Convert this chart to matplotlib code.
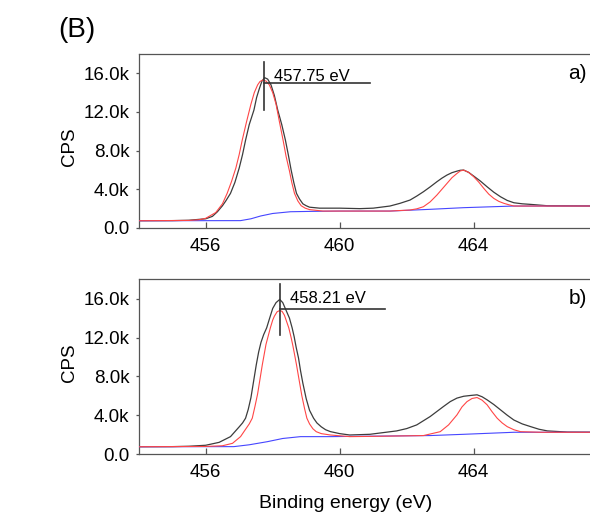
import matplotlib.pyplot as plt
from matplotlib.ticker import FuncFormatter

plt.rcParams['font.family'] = ['Liberation Sans', 'DejaVu Sans']

# Ti 2p spectra, intensities in kCPS
# panel a) - measured envelope
raw_x_a = [454.0, 455.0, 455.5, 456.0, 456.2, 456.35, 456.5, 456.6, 456.74, 456.87, 457.0,
           457.1, 457.19, 457.3, 457.44, 457.52, 457.6, 457.68, 457.76, 457.85, 457.95, 458.05,
           458.15, 458.27, 458.38, 458.47, 458.55, 458.63, 458.71, 458.8, 458.9, 459.0, 459.1,
           459.4, 460.0, 460.6, 461.0, 461.5, 461.8, 462.1, 462.3, 462.5, 462.7, 462.9, 463.05,
           463.2, 463.35, 463.5, 463.6, 463.7, 463.85, 464.0, 464.2, 464.4, 464.6, 464.8, 465.0,
           465.2, 465.45, 465.7, 466.2, 468.0]
raw_y_a = [0.75, 0.76, 0.80, 0.95, 1.20, 1.68, 2.30, 2.80, 3.58, 4.70, 6.20,
           7.60, 9.08, 10.7, 12.2, 13.5, 14.4, 15.2, 15.55, 15.4, 14.8, 13.7,
           12.2, 10.7, 9.08, 7.50, 6.00, 4.70, 3.58, 3.00, 2.50, 2.30, 2.15,
           2.05, 2.05, 2.00, 2.05, 2.27, 2.55, 2.89, 3.30, 3.75, 4.25, 4.78, 5.15,
           5.47, 5.72, 5.88, 5.97, 5.99, 5.75, 5.37, 4.85, 4.26, 3.70, 3.23, 2.85,
           2.61, 2.50, 2.44, 2.30, 2.27]
# panel a) - fitted components
fit_x_a = [454.0, 455.5, 455.8, 456.0, 456.3, 456.5, 456.64, 456.77, 456.9, 457.0, 457.09,
           457.22, 457.35, 457.45, 457.55, 457.62, 457.7, 457.8, 457.9, 458.0, 458.1, 458.2,
           458.31, 458.4, 458.5, 458.57, 458.65, 458.75, 458.85, 458.97, 459.1, 459.5, 461.5,
           462.1, 462.3, 462.5, 462.7, 462.9, 463.05, 463.2, 463.35, 463.5, 463.6, 463.7,
           463.85, 464.0, 464.15, 464.3, 464.45, 464.6, 464.75, 464.9, 465.05, 465.2, 468.0]
fit_y_a = [0.75, 0.78, 0.85, 1.00, 1.60, 2.50, 3.58, 4.80, 6.20, 7.60, 9.08,
           11.0, 12.8, 14.0, 14.8, 15.15, 15.3, 15.2, 14.8, 14.0, 12.8, 11.0,
           9.08, 7.40, 5.90, 4.70, 3.58, 2.80, 2.30, 2.05, 1.90, 1.75, 1.75,
           1.86, 1.98, 2.20, 2.70, 3.40, 4.00, 4.60, 5.20, 5.64, 5.90, 5.99,
           5.75, 5.30, 4.75, 4.10, 3.50, 3.06, 2.75, 2.55, 2.40, 2.27, 2.27]
# panel a) - background
bg_x_a = [454.0, 457.04, 457.35, 457.64, 458.0, 458.53, 459.2, 460.0, 461.5, 462.7, 463.7,
          465.2, 468.0]
bg_y_a = [0.75, 0.76, 0.95, 1.24, 1.50, 1.68, 1.72, 1.75, 1.75, 1.93, 2.10, 2.27, 2.27]

# panel b)
raw_x_b = [454.0, 455.0, 455.5, 456.0, 456.4, 456.74, 457.0, 457.1, 457.19, 457.27, 457.35,
           457.43, 457.51, 457.58, 457.65, 457.73, 457.82, 457.9, 458.0, 458.1, 458.21, 458.3,
           458.4, 458.5, 458.58, 458.64, 458.7, 458.77, 458.83, 458.9, 459.0, 459.1, 459.22,
           459.32, 459.45, 459.58, 459.72, 460.0, 460.3, 460.9, 461.7, 462.0, 462.3, 462.7,
           463.1, 463.3, 463.5, 463.7, 463.9, 464.1, 464.25, 464.4, 464.6, 464.8, 465.0,
           465.2, 465.45, 465.7, 465.95, 466.2, 466.8, 468.0]
raw_y_b = [0.75, 0.76, 0.80, 0.90, 1.20, 1.79, 2.80, 3.20, 3.69, 4.60, 5.80,
           7.50, 9.20, 10.5, 11.5, 12.3, 13.0, 13.9, 15.0, 15.6, 15.93, 15.6,
           14.8, 14.0, 13.0, 12.1, 11.0, 9.90, 8.60, 7.30, 5.70, 4.50, 3.69,
           3.20, 2.80, 2.50, 2.31, 2.10, 1.96, 2.03, 2.38, 2.62, 3.00, 3.86,
           4.90, 5.40, 5.76, 5.95, 6.03, 6.10, 5.90, 5.58, 5.10, 4.55, 4.00,
           3.50, 3.10, 2.82, 2.55, 2.38, 2.26, 2.24]
fit_x_b = [454.0, 456.0, 456.5, 456.8, 457.04, 457.2, 457.3, 457.39, 457.47, 457.55, 457.62,
           457.69, 457.8, 457.93, 458.0, 458.05, 458.13, 458.21, 458.28, 458.35, 458.48, 458.55,
           458.6, 458.65, 458.71, 458.79, 458.87, 458.95, 459.02, 459.1, 459.2, 459.3, 459.45,
           459.72, 460.3, 461.0, 461.8, 462.5, 463.0, 463.25, 463.5, 463.65, 463.8, 463.95,
           464.1, 464.25, 464.4, 464.55, 464.7, 464.85, 465.0, 465.2, 465.4, 466.0, 468.0]
fit_y_b = [0.75, 0.78, 0.85, 1.10, 1.79, 2.60, 3.10, 3.69, 4.90, 6.20, 7.70,
           9.20, 11.3, 13.0, 13.8, 14.2, 14.65, 14.79, 14.7, 14.3, 13.0, 12.0,
           11.2, 10.3, 9.20, 7.60, 6.00, 4.70, 3.69, 3.10, 2.60, 2.30, 2.10,
           1.96, 1.79, 1.82, 1.86, 1.90, 2.30, 3.00, 4.03, 4.85, 5.40, 5.72,
           5.82, 5.55, 5.07, 4.35, 3.69, 3.20, 2.82, 2.50, 2.30, 2.24, 2.24]
bg_x_b = [454.0, 456.84, 457.3, 457.84, 458.3, 458.83, 459.72, 461.0, 462.7, 463.7, 465.2, 468.0]
bg_y_b = [0.75, 0.76, 0.95, 1.27, 1.60, 1.79, 1.79, 1.84, 1.90, 2.03, 2.24, 2.24]

# peak markers: (position, vline bottom, vline top, hline level, hline end, label y)
peaks = [(457.75, 12.2, 17.2, 15.0, 460.91, 15.25),
         (458.21, 12.3, 17.5, 14.9, 461.36, 15.6)]
peak_labels = ['457.75 eV', '458.21 eV']
panel_tags = ['a)', 'b)']
ylabel_y = [0.47, 0.52]

x_ticks = [456, 460, 464]
y_ticks = [0, 4, 8, 12, 16]

fig = plt.figure(figsize=(5.9, 5.13), dpi=100)
ax_a = fig.add_axes([138.7 / 590, 0.5556, 469 / 590, 0.3392])
ax_b = fig.add_axes([138.7 / 590, 0.1150, 469 / 590, 0.3405])

series = [(raw_x_a, raw_y_a, fit_x_a, fit_y_a, bg_x_a, bg_y_a),
          (raw_x_b, raw_y_b, fit_x_b, fit_y_b, bg_x_b, bg_y_b)]

kfmt = FuncFormatter(lambda v, p: '0.0' if v == 0 else '%.1fk' % v)

for i, ax in enumerate([ax_a, ax_b]):
    rx, ry, fx, fy, bx, by = series[i]
    ax.plot(rx, ry, color='#3c3c3c', lw=0.9, zorder=2)
    ax.plot(bx, by, color='#4646ff', lw=0.8, zorder=3)
    ax.plot(fx, fy, color='#ff4646', lw=0.8, zorder=4)

    pos, vb, vt, hl, he, ty = peaks[i]
    ax.plot([pos, pos], [vb, vt], color='#333333', lw=1.2, zorder=5)
    ax.plot([pos, he], [hl, hl], color='#333333', lw=1.2, zorder=5)
    ax.text(pos + 0.3, ty, peak_labels[i], fontsize=12, va='baseline', ha='left')
    ax.text(0.936, 0.89, panel_tags[i], transform=ax.transAxes, fontsize=15,
            va='center', ha='center')

    ax.set_xlim(454, 468)
    ax.set_ylim(0, 18)
    ax.set_xticks(x_ticks)
    ax.set_yticks(y_ticks)
    ax.yaxis.set_major_formatter(kfmt)
    ax.tick_params(axis='x', direction='in', length=4.3, width=0.9, color='#555555',
                   pad=7.5, labelsize=13.5)
    ax.tick_params(axis='y', direction='out', length=2.2, width=0.9, color='#555555',
                   pad=4.5, labelsize=13.5)
    for s in ['left', 'bottom', 'top']:
        ax.spines[s].set_color('#555555')
        ax.spines[s].set_linewidth(0.9)
    ax.spines['right'].set_visible(False)
    ax.set_ylabel('CPS', fontsize=13.5)
    ax.yaxis.set_label_coords(-0.13, ylabel_y[i])

fig.text(346 / 590, 1 - 508.3 / 513, 'Binding energy (eV)', fontsize=14,
         ha='center', va='baseline')
fig.text(77 / 590, 1 - 30 / 513, '(B)', fontsize=20, ha='center', va='center')

fig.savefig('out.png', dpi=100)
